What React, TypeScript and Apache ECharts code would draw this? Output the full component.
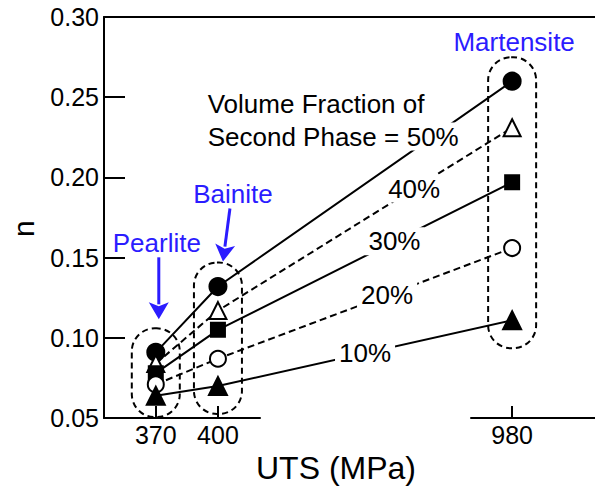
import React, { useEffect, useRef } from 'react';
import * as echarts from 'echarts';

// ---- data ----
const utsValues = [370, 400, 980];
const phases = ['Pearlite', 'Bainite', 'Martensite'];
const fractionLabels = ['50%', '40%', '30%', '20%', '10%'];
const n50 = [0.091, 0.132, 0.26];
const n40 = [0.084, 0.117, 0.231];
const n30 = [0.078, 0.105, 0.197];
const n20 = [0.071, 0.087, 0.156];
const n10 = [0.064, 0.07, 0.111];
const yMin = 0.05;
const yMax = 0.3;
const yStep = 0.05;

const FONT = '"Liberation Sans", Arial, Helvetica, sans-serif';
const BLUE = '#2b1cff';

// ---- styles (kept apart from data) ----
const seriesStyles = [
  { values: n50, symbol: 'circle', size: 17, fill: '#000', dash: 'solid' },
  { values: n40, symbol: 'triangle', size: 17, fill: '#fff', dash: [7, 4] },
  { values: n30, symbol: 'rect', size: 14, fill: '#000', dash: 'solid' },
  { values: n20, symbol: 'circle', size: 16, fill: '#fff', dash: [7, 4] },
  { values: n10, symbol: 'triangle', size: 18, fill: '#000', dash: 'solid' },
];
// fraction along the Bainite -> Martensite segment where each label sits
const labelT = [0.73, 0.667, 0.6, 0.575, 0.5];

const phaseLayout = [
  { tx: 1, ty: -85, arrow: [3, -71, 3, -9] },
  { tx: 15, ty: -69, arrow: [12, -54, 5, -1] },
  { tx: 2, ty: -15, arrow: null as null | number[] },
];

export default function App() {
  const ref = useRef<HTMLDivElement>(null);

  useEffect(() => {
    if (!ref.current) return;
    const chart = echarts.init(ref.current, null, { renderer: 'svg' });

    const groups = utsValues.map((x, i) => {
      const vals = seriesStyles.map((s) => s.values[i]);
      return [x, Math.min(...vals), Math.max(...vals)];
    });

    const lineSeries = seriesStyles.map((s, k) => ({
      type: 'line',
      name: fractionLabels[k],
      data: utsValues.map((x, i) => [x, s.values[i]]),
      symbol: s.symbol,
      symbolSize: s.size,
      showAllSymbol: true,
      z: 3,
      itemStyle: { color: s.fill, borderColor: '#000', borderWidth: 2, opacity: 1 },
      lineStyle: { color: '#000', width: 2, type: s.dash },
      emphasis: { disabled: true },
    }));

    const boxSeries = {
      type: 'custom',
      z: 1,
      data: groups,
      encode: { x: 0, y: [1, 2] },
      renderItem: (params: any, api: any) => {
        const i = params.dataIndex;
        const x = api.value(0);
        const top = api.coord([x, api.value(2)]);
        const bot = api.coord([x, api.value(1)]);
        const axisBottom = api.coord([x, yMin])[1];
        const cx = top[0];
        const T = top[1] - 24;
        const B = Math.min(bot[1] + 28, axisBottom - 1);
        const lay = phaseLayout[i];
        const children: any[] = [
          {
            type: 'rect',
            shape: { x: cx - 24, y: T, width: 48, height: B - T, r: 23 },
            style: { fill: 'none', stroke: '#000', lineWidth: 2, lineDash: [6, 4] },
          },
          {
            type: 'text',
            x: cx + lay.tx,
            y: T + lay.ty,
            style: {
              text: phases[i],
              fill: BLUE,
              font: `26px ${FONT}`,
              align: 'center',
              verticalAlign: 'middle',
            },
          },
        ];
        if (lay.arrow) {
          const [x1, y1, x2, y2] = lay.arrow;
          const ax = cx + x1, ay = T + y1, bx = cx + x2, by = T + y2;
          const dx = bx - ax, dy = by - ay;
          const len = Math.sqrt(dx * dx + dy * dy);
          const ux = dx / len, uy = dy / len;
          const headL = 17, headW = 10;
          const baseX = bx - ux * headL, baseY = by - uy * headL;
          children.push({
            type: 'line',
            shape: { x1: ax, y1: ay, x2: baseX + ux * 2, y2: baseY + uy * 2 },
            style: { stroke: BLUE, lineWidth: 3 },
          });
          children.push({
            type: 'polygon',
            shape: {
              points: [
                [bx, by],
                [baseX - uy * headW, baseY + ux * headW],
                [baseX + ux * 4, baseY + uy * 4],
                [baseX + uy * headW, baseY - ux * headW],
              ],
            },
            style: { fill: BLUE },
          });
        }
        return { type: 'group', children };
      },
    };

    const option: any = {
      animation: false,
      backgroundColor: '#fff',
      grid: { left: 102, right: 0, top: 17, bottom: 68, containLabel: false },
      textStyle: { fontFamily: FONT },
      xAxis: [
        {
          type: 'value',
          min: 345,
          max: 1020,
          breaks: [{ start: 420, end: 960, gap: 102 }],
          breakArea: { show: false },
          name: 'UTS (MPa)',
          nameLocation: 'middle',
          nameGap: 27,
          nameTextStyle: { fontSize: 32, color: '#000', fontFamily: FONT, padding: [0, 27, 0, 0] },
          axisLine: { show: true, lineStyle: { color: '#000', width: 2 } },
          axisTick: {
            show: true,
            inside: true,
            length: 12,
            customValues: utsValues,
            lineStyle: { color: '#000', width: 2 },
          },
          axisLabel: {
            show: true,
            customValues: utsValues,
            formatter: (v: number) => String(v),
            fontSize: 25,
            color: '#000',
            fontFamily: FONT,
            margin: 4,
          },
          splitLine: { show: false },
        },
        {
          type: 'value',
          position: 'top',
          min: 0,
          max: 1,
          axisLine: { show: true, onZero: false, lineStyle: { color: '#000', width: 2 } },
          axisTick: { show: false },
          axisLabel: { show: false },
          splitLine: { show: false },
        },
      ],
      yAxis: {
        type: 'value',
        min: yMin,
        max: yMax,
        interval: yStep,
        name: 'n',
        nameLocation: 'middle',
        nameRotate: 90,
        nameGap: 66,
        nameTextStyle: { fontSize: 30, color: '#000', fontFamily: FONT, padding: [0, 22, 0, 0] },
        axisLine: { show: true, lineStyle: { color: '#000', width: 2 } },
        axisTick: { show: true, inside: true, length: 21, lineStyle: { color: '#000', width: 2 } },
        axisLabel: {
          fontSize: 25,
          color: '#000',
          fontFamily: FONT,
          margin: 5,
          formatter: (v: number) => v.toFixed(2),
        },
        splitLine: { show: false },
      },
      series: [boxSeries, ...lineSeries],
    };

    chart.setOption(option);

    const px = (x: number, y: number) =>
      chart.convertToPixel({ xAxisIndex: 0, yAxisIndex: 0 } as any, [x, y]) as number[];

    const labelFont = `26px ${FONT}`;
    const graphics: any[] = [];
    let p50: number[] = [0, 0];
    seriesStyles.forEach((s, k) => {
      const a = px(utsValues[1], s.values[1]);
      const b = px(utsValues[2], s.values[2]);
      const t = labelT[k];
      const p = [a[0] + t * (b[0] - a[0]), a[1] + t * (b[1] - a[1])];
      if (k === 0) p50 = p;
      graphics.push({
        type: 'text',
        x: p[0],
        y: p[1],
        z: 20,
        style: {
          text: fractionLabels[k],
          font: labelFont,
          fill: '#000',
          align: 'center',
          verticalAlign: 'middle',
          backgroundColor: '#fff',
          padding: [1, 4, 1, 4],
        },
      });
    });
    const left = p50[0] - 225;
    graphics.push({
      type: 'text',
      x: left,
      y: p50[1] - 33,
      z: 20,
      style: { text: 'Volume Fraction of', font: labelFont, fill: '#000', align: 'left', verticalAlign: 'middle' },
    });
    graphics.push({
      type: 'text',
      x: left,
      y: p50[1],
      z: 20,
      style: { text: 'Second Phase =', font: labelFont, fill: '#000', align: 'left', verticalAlign: 'middle' },
    });
    chart.setOption({ graphic: graphics });

    return () => chart.dispose();
  }, []);

  return (
    <div
      ref={ref}
      style={{ position: 'fixed', left: 0, top: 0, width: 595, height: 489, background: '#fff' }}
    />
  );
}
